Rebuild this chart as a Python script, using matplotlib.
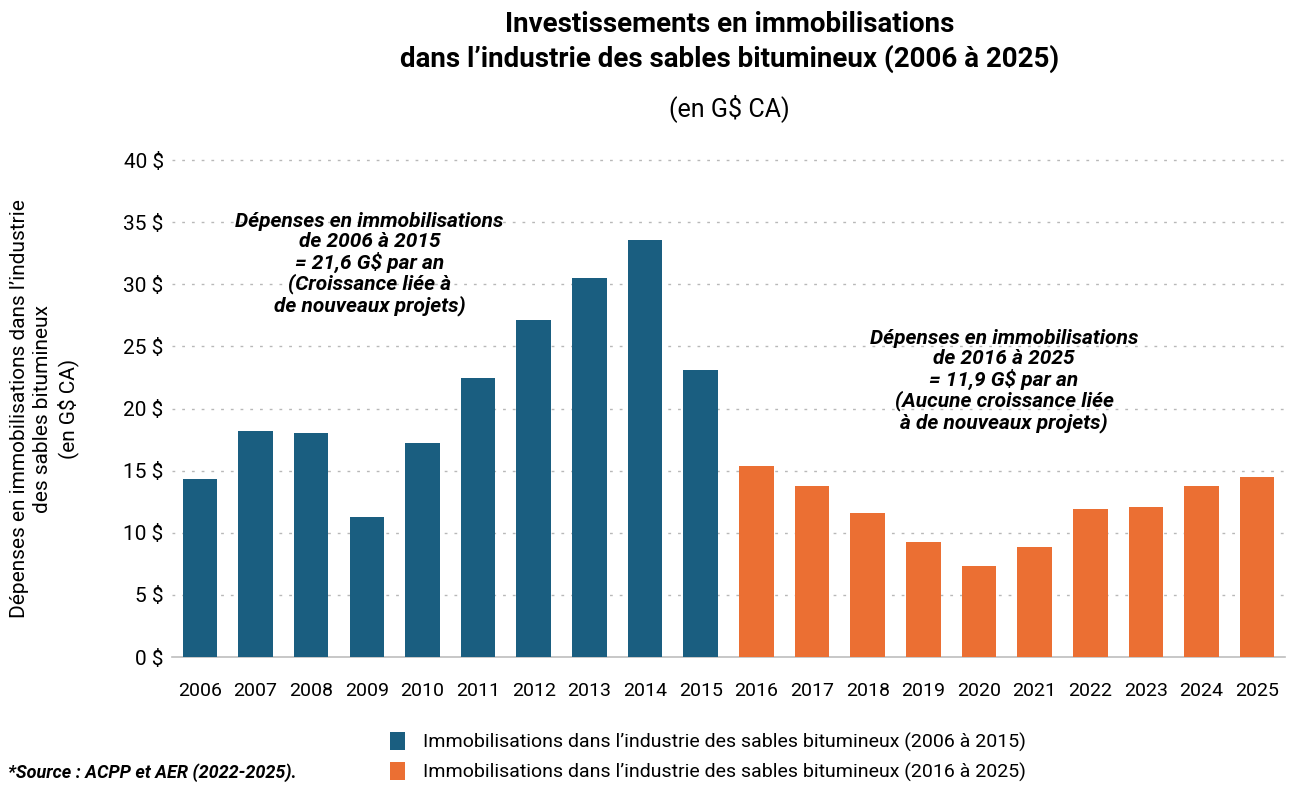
import matplotlib.pyplot as plt
import numpy as np

plt.rcParams['font.family'] = ['Liberation Sans Narrow', 'Roboto', 'DejaVu Sans']

years = [str(y) for y in range(2006, 2026)]
values_before = [14.3, 18.2, 18.0, 11.3, 17.2, 22.5, 27.1, 30.5, 33.6, 23.1]
values_after = [15.4, 13.8, 11.6, 9.3, 7.3, 8.85, 11.9, 12.1, 13.8, 14.5]
yticks = [0, 5, 10, 15, 20, 25, 30, 35, 40]

label_before = "Immobilisations dans l’industrie des sables bitumineux (2006 à 2015)"
label_after = "Immobilisations dans l’industrie des sables bitumineux (2016 à 2025)"

blue = "#1a5e80"
orange = "#eb6f33"

fig = plt.figure(figsize=(12.91, 7.85), dpi=100)
ax = fig.add_axes([0.1332, 0.163, 0.8622, 0.633])

x = np.arange(len(years))
ax.bar(x[:10], values_before, width=0.62, color=blue, label=label_before, zorder=3)
ax.bar(x[10:], values_after, width=0.62, color=orange, label=label_after, zorder=3)

ax.set_xlim(-0.5, len(years) - 0.5)
ax.set_ylim(0, 40)
ax.set_xticks(x)
ax.set_xticklabels(years, fontsize=14)
ax.set_yticks(yticks)
ax.set_yticklabels([f"{v} $" for v in yticks], fontsize=15)
ax.tick_params(axis='y', length=0, pad=6)
ax.tick_params(axis='x', length=0, pad=18)

for v in yticks[1:]:
    ax.axhline(v, color="#b8b8b8", lw=1, ls=(0, (2, 5)), zorder=1, clip_on=False)
for s in ["top", "right", "left"]:
    ax.spines[s].set_visible(False)
ax.spines["bottom"].set_color("#bdbdbd")
ax.spines["bottom"].set_linewidth(1.2)

ax.set_ylabel("Dépenses en immobilisations dans l’industrie\ndes sables bitumineux\n(en G$ CA)",
              fontsize=15, labelpad=32, linespacing=1.3)

fig.text(0.565, 0.986, "Investissements en immobilisations\ndans l’industrie des sables bitumineux (2006 à 2025)",
         ha="center", va="top", fontsize=20, fontweight="bold", linespacing=1.3)
fig.text(0.565, 0.863, "(en G$ CA)", ha="center", va="center", fontsize=18)

ax.text(3.05, 35.8, "Dépenses en immobilisations\nde 2006 à 2015\n= 21,6 G$ par an\n(Croissance liée à\nde nouveaux projets)",
        ha="center", va="top", fontsize=15, fontweight="bold", fontstyle="italic", linespacing=1.05)
ax.text(14.45, 26.4, "Dépenses en immobilisations\nde 2016 à 2025\n= 11,9 G$ par an\n(Aucune croissance liée\nà de nouveaux projets)",
        ha="center", va="top", fontsize=15, fontweight="bold", fontstyle="italic", linespacing=1.05)

fig.legend(loc="upper left", bbox_to_anchor=(0.302, 0.068), frameon=False, fontsize=14,
           handlelength=0.8, handleheight=1.1, handletextpad=0.9, labelspacing=0.5,
           borderaxespad=0, borderpad=0)
fig.text(0.006, 0.0155, "*Source : ACPP et AER (2022-2025).", fontsize=13,
         fontweight="bold", fontstyle="italic", ha="left", va="center")

fig.savefig("out.png", dpi=100)
